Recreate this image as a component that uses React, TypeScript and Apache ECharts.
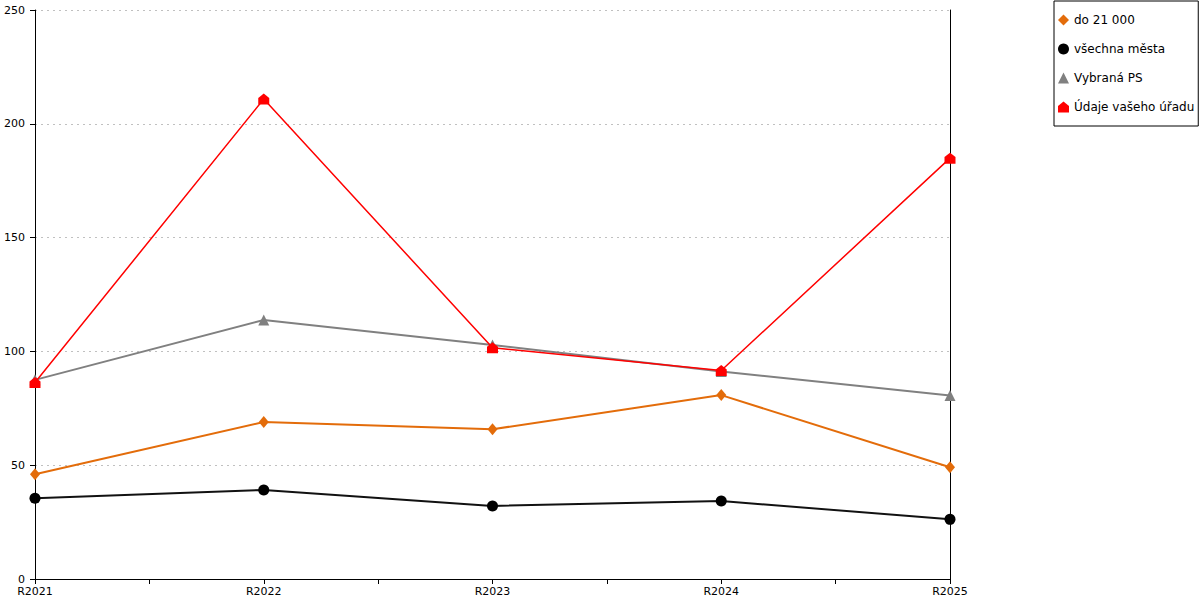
import React, { useEffect, useRef } from "react";
import * as echarts from "echarts";

const categories = ["R2021", "R2022", "R2023", "R2024", "R2025"];
const do21000 = [46.0, 69.0, 65.8, 80.8, 49.1];
const vsechnaMesta = [35.5, 39.1, 32.1, 34.3, 26.2];
const vybranaPS = [87.5, 113.8, 102.8, 91.2, 80.6];
const udajeUradu = [86.3, 210.9, 101.6, 91.6, 184.9];
const yTicks = [0, 50, 100, 150, 200, 250];

const HOUSE = "path://M0,4 L5,0 L10,4 L10,10 L0,10 Z";
const FONT = "DejaVu Sans";

function toPoints(vals: number[]) {
  return vals.map((v, i) => [i, v]);
}

export default function App() {
  const ref = useRef<HTMLDivElement>(null);
  useEffect(() => {
    document.body.style.margin = "0";
    document.body.style.overflow = "hidden";
    if (!ref.current) return;
    const chart = echarts.init(ref.current, undefined, { renderer: "svg" });
    chart.setOption({
      animation: false,
      backgroundColor: "#ffffff",
      textStyle: { fontFamily: FONT },
      grid: { left: 35, right: 250, top: 10, bottom: 21, containLabel: false },
      legend: {
        orient: "vertical",
        left: 1054,
        top: 1,
        padding: [13, 4, 13, 4],
        borderColor: "#000",
        borderWidth: 1,
        borderRadius: 0,
        itemWidth: 11,
        itemHeight: 11,
        itemGap: 17,
        textStyle: { fontFamily: FONT, fontSize: 12, color: "#000" },
        data: [
          { name: "do 21 000", icon: "diamond" },
          { name: "všechna města", icon: "circle" },
          { name: "Vybraná PS", icon: "triangle" },
          { name: "Údaje vašeho úřadu", icon: HOUSE },
        ],
      },
      xAxis: {
        type: "value",
        min: 0,
        max: categories.length - 1,
        interval: 0.5,
        axisLine: { show: true, lineStyle: { color: "#000", width: 1 } },
        axisTick: { show: true, length: 5, lineStyle: { color: "#000" } },
        splitLine: { show: false },
        axisLabel: {
          color: "#000",
          fontFamily: FONT,
          fontSize: 11,
          margin: 7,
          showMinLabel: true,
          showMaxLabel: true,
          formatter: (v: number) =>
            Number.isInteger(v) ? categories[v] ?? "" : "",
        },
      },
      yAxis: [
        {
          type: "value",
          min: yTicks[0],
          max: yTicks[yTicks.length - 1],
          interval: 50,
          axisLine: { show: true, lineStyle: { color: "#000", width: 1 } },
          axisTick: { show: true, length: 5, lineStyle: { color: "#000" } },
          axisLabel: { color: "#000", fontFamily: FONT, fontSize: 11, margin: 10 },
          splitLine: {
            show: true,
            lineStyle: { color: "#c0c0c0", type: [2, 4], width: 1 },
          },
        },
        {
          type: "value",
          position: "right",
          min: yTicks[0],
          max: yTicks[yTicks.length - 1],
          interval: 50,
          axisLine: { show: true, lineStyle: { color: "#000", width: 1 } },
          axisTick: { show: false },
          axisLabel: { show: false },
          splitLine: { show: false },
        },
      ],
      series: [
        {
          name: "do 21 000",
          type: "line",
          data: toPoints(do21000),
          symbol: "diamond",
          symbolSize: [10, 12],
          color: "#E36C0A",
          lineStyle: { width: 2, color: "#E36C0A" },
          itemStyle: { color: "#E36C0A" },
          z: 2,
        },
        {
          name: "všechna města",
          type: "line",
          data: toPoints(vsechnaMesta),
          symbol: "circle",
          symbolSize: 11,
          color: "#000",
          lineStyle: { width: 2, color: "#111" },
          itemStyle: { color: "#000" },
          z: 2,
        },
        {
          name: "Vybraná PS",
          type: "line",
          data: toPoints(vybranaPS),
          symbol: "triangle",
          symbolSize: 11,
          color: "#808080",
          lineStyle: { width: 2, color: "#808080" },
          itemStyle: { color: "#808080" },
          z: 3,
        },
        {
          name: "Údaje vašeho úřadu",
          type: "line",
          data: toPoints(udajeUradu),
          symbol: HOUSE,
          symbolSize: 11,
          color: "#FF0000",
          lineStyle: { width: 1.5, color: "#FF0000" },
          itemStyle: { color: "#FF0000" },
          z: 4,
        },
      ],
    });
    return () => chart.dispose();
  }, []);
  return <div ref={ref} style={{ width: 1200, height: 600 }} />;
}
